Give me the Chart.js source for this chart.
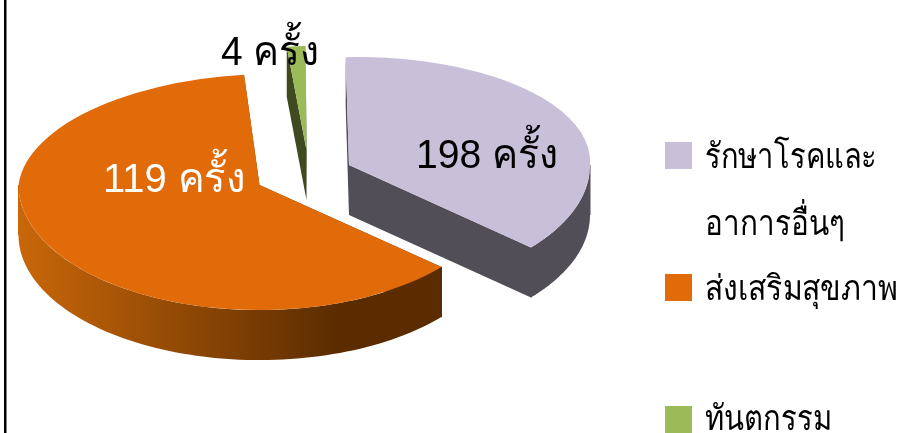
<!DOCTYPE html>
<html>
<head>
<meta charset="utf-8">
<style>
  html, body { margin: 0; padding: 0; background: #fff; overflow: hidden; }
  canvas { display: block; }
</style>
<script src="https://cdn.jsdelivr.net/npm/chart.js@4"></script>
</head>
<body>
<canvas id="pieChart" width="917" height="433"></canvas>
<script>
// Data for the pie
const categories = ['รักษาโรคและ อาการอื่นๆ', 'ส่งเสริมสุขภาพ', 'ทันตกรรม'];
// slice sizes as drawn in the picture: its printed labels sit on the "wrong" slices, kept as they are
const sliceValues = [119, 198, 4];
const sliceLabels = ['198 ครั้ง', '119 ครั้ง', '4 ครั้ง'];

// Colours
const topColors = ['#C8BFD9', '#E16A09', '#9BBB59'];
const sideFrom = ['#524E58', '#C96709', '#3F4A20'];
const sideTo = ['#524E58', '#5A2C00', '#3F4A20'];
const labelColors = ['#000000', '#ffffff', '#000000'];

// How each slice is laid out in the fake 3D view (piece pulled out, tilt behind / in front of its tip)
const FONT = '"Liberation Sans", "Noto Sans", sans-serif';
const RADIUS = 241;
const DEPTH = 50;
const sliceViews = [
    { x: 349, y: 165, backTilt: 0.448, frontTilt: 0.522, backSkew: -0.03 },
    { x: 259.5, y: 185, backTilt: 0.461, frontTilt: 0.519, backSkew: -0.058 },
    { x: 306.5, y: 150, backTilt: 0.432, frontTilt: 0.5, backSkew: -0.04 }
];
const labelSpots = [
    { x: 487, y: 168, width: 142 },
    { x: 174, y: 192, width: 142 },
    { x: 270, y: 65, width: 98 }
];
const legendRows = [
    { boxY: 142, lines: [{ y: 168, width: 172 }, { y: 235, width: 140 }] },
    { boxY: 274, lines: [{ y: 300, width: 193 }] },
    { boxY: 406, lines: [{ y: 430, width: 127 }] }
];

// Position on the top face of a slice for a given angle on its rim
function rimPoint(view, angle) {
    const dx = RADIUS * Math.cos(angle);
    const dy = RADIUS * Math.sin(angle);
    if (dy < 0) {
        return { x: view.x + dx + view.backSkew * dy, y: view.y + view.backTilt * dy };
    }
    return { x: view.x + dx, y: view.y + view.frontTilt * dy };
}

function drawSides(ctx, arc, view, i) {
    const gradient = ctx.createLinearGradient(18, 0, 340, 0);
    gradient.addColorStop(0, sideFrom[i]);
    gradient.addColorStop(1, sideTo[i]);
    ctx.fillStyle = gradient;
    ctx.strokeStyle = gradient;
    ctx.lineWidth = 1;

    // the two cut faces
    [arc.startAngle, arc.endAngle].forEach(angle => {
        const p = rimPoint(view, angle);
        ctx.beginPath();
        ctx.moveTo(view.x, view.y);
        ctx.lineTo(p.x, p.y);
        ctx.lineTo(p.x, p.y + DEPTH);
        ctx.lineTo(view.x, view.y + DEPTH);
        ctx.closePath();
        ctx.fill();
    });

    // outer wall, only the part facing us
    const from = Math.max(arc.startAngle, 0);
    const to = Math.min(arc.endAngle, Math.PI);
    if (to <= from) return;
    ctx.beginPath();
    for (let k = 0; k <= 80; k++) {
        const p = rimPoint(view, from + (to - from) * k / 80);
        if (k === 0) ctx.moveTo(p.x, p.y); else ctx.lineTo(p.x, p.y);
    }
    for (let k = 80; k >= 0; k--) {
        const p = rimPoint(view, from + (to - from) * k / 80);
        ctx.lineTo(p.x, p.y + DEPTH);
    }
    ctx.closePath();
    ctx.fill();

    // cover the seam where the wall meets a cut face
    [from, to].forEach(angle => {
        const p = rimPoint(view, angle);
        ctx.beginPath();
        ctx.moveTo(p.x, p.y);
        ctx.lineTo(p.x, p.y + DEPTH);
        ctx.stroke();
    });
}

// The library's arc, squashed once behind its tip and once in front of it
function drawTop(ctx, arc, view, chart) {
    ctx.save();
    ctx.beginPath();
    ctx.rect(0, 0, chart.width, view.y + 0.5);
    ctx.clip();
    ctx.translate(view.x, view.y);
    ctx.transform(1, 0, view.backSkew, view.backTilt, 0, 0);
    ctx.translate(-arc.x, -arc.y);
    arc.draw(ctx);
    ctx.restore();

    ctx.save();
    ctx.beginPath();
    ctx.rect(0, view.y, chart.width, chart.height - view.y);
    ctx.clip();
    ctx.translate(view.x, view.y);
    ctx.transform(1, 0, 0, view.frontTilt, 0, 0);
    ctx.translate(-arc.x, -arc.y);
    arc.draw(ctx);
    ctx.restore();
}

const pie3d = {
    id: 'pie3d',
    beforeDatasetsDraw(chart) {
        const ctx = chart.ctx;
        const arcs = chart.getDatasetMeta(0).data;

        // black rule on the left of the picture
        ctx.fillStyle = '#000000';
        ctx.fillRect(4, 0, 2.5, chart.height);

        arcs.forEach((arc, i) => drawSides(ctx, arc, sliceViews[i], i));
        arcs.forEach((arc, i) => drawTop(ctx, arc, sliceViews[i], chart));

        // labels on the slices
        ctx.font = '300 41px ' + FONT;
        ctx.textAlign = 'center';
        ctx.textBaseline = 'alphabetic';
        sliceLabels.forEach((text, i) => {
            const spot = labelSpots[i];
            ctx.fillStyle = labelColors[i];
            ctx.fillText(text, spot.x, spot.y, spot.width);
        });

        // legend
        ctx.font = '300 35px ' + FONT;
        ctx.textAlign = 'left';
        chart.data.labels.forEach((name, i) => {
            ctx.fillStyle = topColors[i];
            ctx.fillRect(665, legendRows[i].boxY, 27, 27);
            ctx.fillStyle = '#000000';
            name.split(' ').forEach((line, n) => {
                const row = legendRows[i].lines[n];
                ctx.fillText(line, 705, row.y, row.width);
            });
        });
        return false;
    }
};

const pieChart = new Chart(document.getElementById('pieChart'), {
    type: 'pie',
    data: {
        labels: categories,
        datasets: [{
            data: sliceValues,
            backgroundColor: topColors,
            borderWidth: 0
        }]
    },
    options: {
        responsive: false,
        animation: false,
        radius: RADIUS,
        rotation: -2.5,
        plugins: {
            legend: { display: false },
            tooltip: { enabled: false }
        }
    },
    plugins: [pie3d]
});
</script>
</body>
</html>
